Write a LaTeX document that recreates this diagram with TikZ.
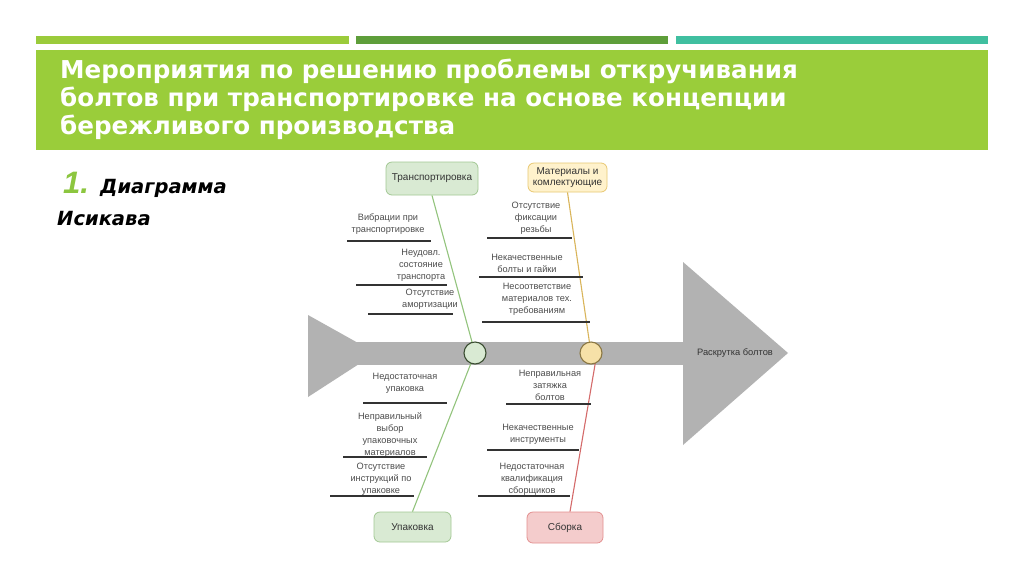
\documentclass[tikz,border=0pt]{standalone}
\usepackage{fontspec}
\setmainfont{Liberation Sans}
\newfontfamily\titlefont{DejaVu Sans}
\definecolor{barlime}{HTML}{9BCB3B}
\definecolor{bargreen}{HTML}{5E9E3A}
\definecolor{barteal}{HTML}{40BFA0}
\definecolor{titlegreen}{HTML}{9ACD3A}
\definecolor{numgreen}{HTML}{8CC63F}
\definecolor{spinegray}{HTML}{B2B2B2}
\definecolor{textgray}{HTML}{4D4D4D}
\definecolor{linedark}{HTML}{333333}
\definecolor{grfill}{HTML}{D9EAD3}
\definecolor{grdraw}{HTML}{A3C894}
\definecolor{grbone}{HTML}{93C47D}
\definecolor{yefill}{HTML}{FFF2CC}
\definecolor{yedraw}{HTML}{E8C872}
\definecolor{yebone}{HTML}{D9B55A}
\definecolor{rdfill}{HTML}{F4CCCC}
\definecolor{rddraw}{HTML}{E39090}
\definecolor{rdbone}{HTML}{D46A6A}

\begin{document}
\begin{tikzpicture}[
		x=1pt,
		y=-1pt,
		causetext/.style={font=\fontsize{9.2}{12}\selectfont, text=textgray, align=center, inner sep=0pt, anchor=north},
		causeline/.style={line width=1.6pt, draw=linedark},
		catbox/.style={rounded corners=6pt, line width=0.8pt, inner sep=0pt,
				font=\fontsize{10}{11.5}\selectfont, text=linedark, align=center},
		hub/.style={circle, line width=1.1pt, minimum size=22pt, inner sep=0pt},
		bone/.style={line width=1.1pt},
		titleline/.style={anchor=base west, inner sep=0pt, text=white,
				font=\titlefont\fontsize{24.6}{28}\bfseries\selectfont},
		subtitle/.style={anchor=base west, inner sep=0pt,
				font=\titlefont\fontsize{19.5}{19.5}\bfseries\itshape\selectfont}
	]
	\useasboundingbox (0,0) rectangle (1024,574);
	\fill[white] (0,0) rectangle (1024,574);

	% ---- полосы и заголовок ----------------------------------------
	\fill[barlime]  (36,36) rectangle (349,44);
	\fill[bargreen] (356,36) rectangle (668,44);
	\fill[barteal]  (676,36) rectangle (988,44);
	\fill[titlegreen] (36,50) rectangle (988,150);
	\node[titleline] (title1) at (60,78)  {Мероприятия по решению проблемы откручивания};
	\node[titleline] (title2) at (60,106) {болтов при транспортировке на основе концепции};
	\node[titleline] (title3) at (60,134) {бережливого производства};

	\node[anchor=base west, inner sep=0pt, text=numgreen, font=\fontsize{31}{31}\bfseries\itshape\selectfont] (num) at (63,193) {1.};
	\node[subtitle] (sub1) at (100,193) {Диаграмма};
	\node[subtitle] (sub2) at (57,225) {Исикава};

	% ---- хребет ------------------------------------------------------
	\fill[spinegray] (308,315) -- (376,353) -- (308,397) -- cycle;
	\fill[spinegray] (340,342) rectangle (684,365);
	\fill[spinegray] (683,262) -- (788,353) -- (683,445) -- cycle;
	\node[font=\fontsize{9.3}{11}\selectfont, text=linedark, inner sep=0pt] (effect) at (735,353) {Раскрутка болтов};

	% ---- категории и узлы ------------------------------------------
	\node[catbox, fill=grfill, draw=grdraw, minimum width=92pt, minimum height=33pt] (tr) at (432,178.5) {Транспортировка};
	\node[catbox, fill=yefill, draw=yedraw, minimum width=79pt, minimum height=29pt] (mat) at (567.5,177.5) {Материалы и\\комлектующие};
	\node[catbox, fill=grfill, draw=grdraw, minimum width=77pt, minimum height=30pt] (upak) at (412.5,527) {Упаковка};
	\node[catbox, fill=rdfill, draw=rddraw, minimum width=76pt, minimum height=31pt] (sb) at (565,527.5) {Сборка};

	\coordinate (gcpos) at (475,353);
	\coordinate (ycpos) at (591,353);
	\draw[bone, grbone] (tr.south) -- (gcpos);
	\draw[bone, grbone] (gcpos) -- (upak.north);
	\draw[bone, yebone] (mat.south) -- (ycpos);
	\draw[bone, rdbone] (ycpos) ++(6,0) -- ([xshift=5pt]sb.north);
	\node[hub, fill=grfill, draw=black!60!grbone] (gc) at (gcpos) {};
	\node[hub, fill=yefill!60!yedraw, draw=black!40!yedraw] (yc) at (ycpos) {};

	% ---- причины: транспортировка ---------------------------------
	\node[causetext] (c1) at (388,214) {Вибрации при\\транспортировке};
	\draw[causeline] (347,241) -- (431,241);
	\node[causetext] (c2) at (421,249) {Неудовл.\\состояние\\транспорта};
	\draw[causeline] (356,285) -- (447,285);
	\node[causetext] (c3) at (430,289) {Отсутствие\\амортизации};
	\draw[causeline] (368,314) -- (453,314);

	% ---- причины: материалы ---------------------------------------
	\node[causetext] (c4) at (536,202) {Отсутствие\\фиксации\\резьбы};
	\draw[causeline] (487,238) -- (572,238);
	\node[causetext] (c5) at (527,254) {Некачественные\\болты и гайки};
	\draw[causeline] (479,277) -- (583,277);
	\node[causetext] (c6) at (537,283) {Несоответствие\\материалов тех.\\требованиям};
	\draw[causeline] (482,322) -- (590,322);

	% ---- причины: упаковка ----------------------------------------
	\node[causetext] (c7) at (405,373) {Недостаточная\\упаковка};
	\draw[causeline] (363,403) -- (447,403);
	\node[causetext] (c8) at (390,412) {Неправильный\\выбор\\упаковочных\\материалов};
	\draw[causeline] (343,457) -- (427,457);
	\node[causetext] (c9) at (381,463) {Отсутствие\\инструкций по\\упаковке};
	\draw[causeline] (330,496) -- (414,496);

	% ---- причины: сборка ------------------------------------------
	\node[causetext] (c10) at (550,370) {Неправильная\\затяжка\\болтов};
	\draw[causeline] (506,404) -- (591,404);
	\node[causetext] (c11) at (538,424) {Некачественные\\инструменты};
	\draw[causeline] (487,450) -- (579,450);
	\node[causetext] (c12) at (532,463) {Недостаточная\\квалификация\\сборщиков};
	\draw[causeline] (478,496) -- (570,496);
\end{tikzpicture}
\end{document}
